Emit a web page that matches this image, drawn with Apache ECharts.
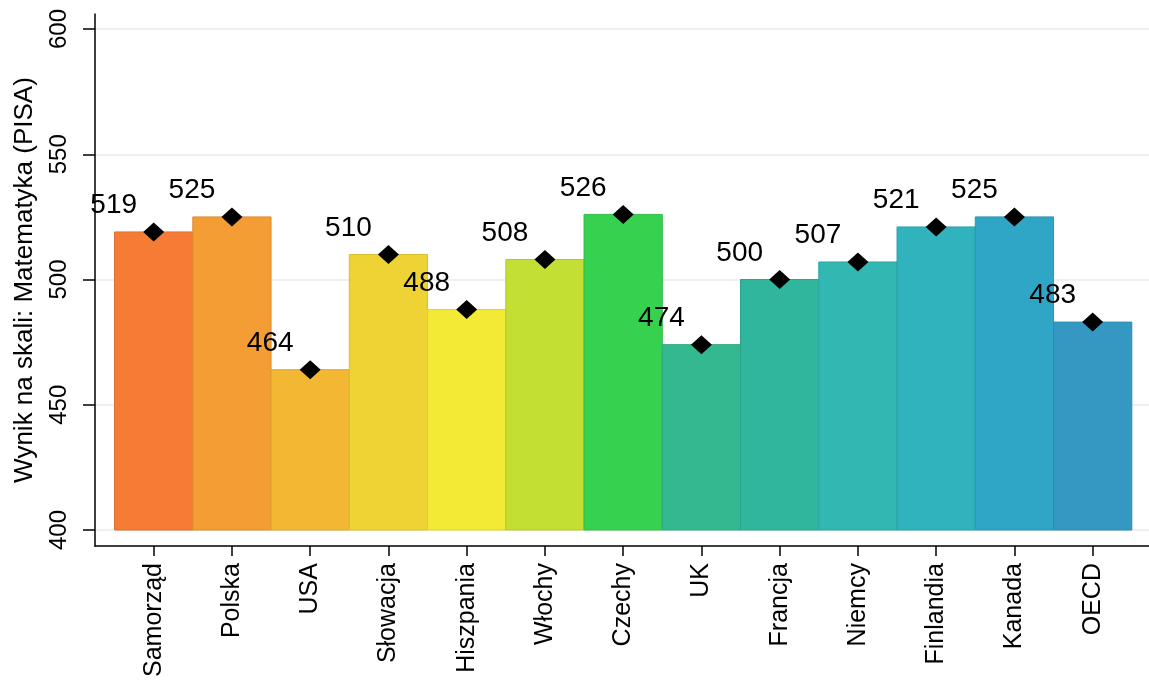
<!DOCTYPE html>
<html>
<head>
<meta charset="utf-8">
<script src="https://cdn.jsdelivr.net/npm/echarts@6/dist/echarts.min.js"></script>
<style>
  html, body { margin: 0; padding: 0; background: #fff; }
  #chart { width: 1149px; height: 680px; }
</style>
</head>
<body>
<div id="chart"></div>
<script>
const CATEGORIES = ['Samorząd', 'Polska', 'USA', 'Słowacja', 'Hiszpania', 'Włochy', 'Czechy', 'UK', 'Francja', 'Niemcy', 'Finlandia', 'Kanada', 'OECD'];
const SCORES = [519, 525, 464, 510, 488, 508, 526, 474, 500, 507, 521, 525, 483];
const BASELINE = 400;
const Y_TICKS = [400, 450, 500, 550, 600];
const BAR_COLORS = ['#F67B34', '#F39D34', '#F2B833', '#EFD234', '#F2EA35', '#C4DF34', '#36D14F', '#33B88F', '#2FB69C', '#32B7B2', '#31B3BD', '#30A6C6', '#3498C3'];
const Y_TITLE = 'Wynik na skali: Matematyka (PISA)';

const FONT = 'Liberation Sans, Arial, sans-serif';

function darken(hex, f) {
  const n = parseInt(hex.slice(1), 16);
  const r = Math.round(((n >> 16) & 255) * f);
  const g = Math.round(((n >> 8) & 255) * f);
  const b = Math.round((n & 255) * f);
  return 'rgb(' + r + ',' + g + ',' + b + ')';
}

const chart = echarts.init(document.getElementById('chart'), null, { renderer: 'canvas' });

const barData = SCORES.map((s, i) => [i, s]);
const catIdx = CATEGORIES.map((c, i) => i);

chart.setOption({
  animation: false,
  backgroundColor: '#ffffff',
  grid: { left: 95, right: 0, top: 14, bottom: 133, containLabel: false },
  xAxis: {
    type: 'value',
    min: -0.75,
    max: 12.72,
    axisLine: { show: true, onZero: false, lineStyle: { color: '#000', width: 1.5 } },
    axisTick: { show: true, length: 10, customValues: catIdx, lineStyle: { color: '#000', width: 1.5 } },
    axisLabel: {
      customValues: catIdx,
      formatter: (v) => CATEGORIES[Math.round(v)] || '',
      rotate: 90,
      margin: 17,
      fontSize: 25,
      color: '#000',
      fontFamily: FONT
    },
    splitLine: { show: false }
  },
  yAxis: {
    type: 'value',
    min: 393.6,
    max: 606,
    name: Y_TITLE,
    nameLocation: 'middle',
    nameRotate: 90,
    nameGap: 57,
    nameTextStyle: { fontSize: 26, color: '#000', fontFamily: FONT },
    axisLine: { show: true, onZero: false, lineStyle: { color: '#000', width: 1.5 } },
    axisTick: { show: true, length: 12, customValues: Y_TICKS, lineStyle: { color: '#000', width: 1.5 } },
    axisLabel: {
      customValues: Y_TICKS,
      rotate: 90,
      margin: 24,
      fontSize: 24,
      color: '#000',
      fontFamily: FONT
    },
    splitLine: { show: true, lineStyle: { color: '#ebebeb', width: 1.5 } }
  },
  series: [
    {
      type: 'custom',
      data: barData,
      encode: { x: 0, y: 1 },
      z: 2,
      renderItem: (params, api) => {
        const i = api.value(0);
        const v = api.value(1);
        const top = api.coord([i, v]);
        const base = api.coord([i, BASELINE]);
        const w = api.size([1, 0])[0];
        const c = BAR_COLORS[i];
        return {
          type: 'rect',
          shape: { x: top[0] - w / 2, y: top[1], width: w, height: base[1] - top[1] },
          style: { fill: c, stroke: darken(c, 0.9), lineWidth: 1 }
        };
      }
    },
    {
      type: 'scatter',
      data: barData,
      symbol: 'diamond',
      symbolSize: [21, 19],
      itemStyle: { color: '#000', opacity: 1 },
      z: 5,
      label: {
        show: true,
        position: 'top',
        distance: 5,
        offset: [-40, 2],
        formatter: (p) => String(p.value[1]),
        fontSize: 28,
        color: '#000',
        fontFamily: FONT
      }
    }
  ]
});
</script>
</body>
</html>
